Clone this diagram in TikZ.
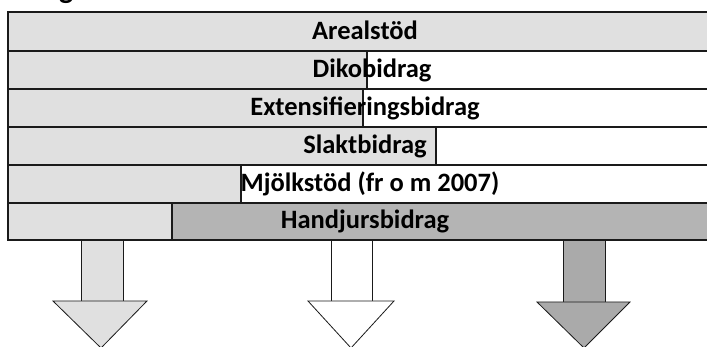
\documentclass[tikz,border=0pt]{standalone}
\usepackage{fontspec}
\setmainfont{Carlito}
\definecolor{barlight}{HTML}{E0E0E0}
\definecolor{bardark}{HTML}{B4B4B4}
\definecolor{arrowdark}{HTML}{AAAAAA}
\definecolor{linec}{HTML}{1A1A1A}
\begin{document}
\begin{tikzpicture}[x=1pt,y=-1pt,
  seg/.style={draw=linec, line width=1.1pt, fill=#1},
  arr/.style={draw=linec, line width=0.8pt, fill=#1},
  lbl/.style={font=\bfseries\fontsize{26.5}{30}\selectfont, anchor=base, inner sep=0pt, text=black}]
\useasboundingbox (0,0) rectangle (707,347);
% cut-off title glyph
\node[font=\bfseries\fontsize{30}{34}\selectfont, anchor=base west, inner sep=0pt] (title) at (59,-1) {g};
% row 1
\draw[seg=barlight] (8,12) rectangle (722,51);
\node[lbl] (areal) at (365,40) {Arealstöd};
% row 2
\draw[seg=barlight] (8,51) rectangle (367,89);
\draw[seg=white] (367,51) rectangle (722,89);
\node[lbl] (diko) at (372,78) {Dikobidrag};
% row 3
\draw[seg=barlight] (8,89) rectangle (363,127);
\draw[seg=white] (363,89) rectangle (722,127);
\node[lbl] (ext) at (365,116) {Extensifieringsbidrag};
% row 4
\draw[seg=barlight] (8,127) rectangle (436,165);
\draw[seg=white] (436,127) rectangle (722,165);
\node[lbl] (slakt) at (365,154) {Slaktbidrag};
% row 5
\draw[seg=barlight] (8,165) rectangle (241,203);
\draw[seg=white] (241,165) rectangle (722,203);
\node[lbl] (mjolk) at (370,192) {Mjölkstöd (fr o m 2007)};
% row 6
\draw[seg=barlight] (8,203) rectangle (172,240);
\draw[seg=bardark] (172,203) rectangle (722,240);
\node[lbl] (handjur) at (365,229) {Handjursbidrag};
% arrows
\draw[arr=barlight] (81,240) rectangle (123,301);
\draw[arr=barlight] (53,301) -- (147,301) -- (101,348) -- cycle;
\draw[arr=white] (331,240) rectangle (372,301);
\draw[arr=white] (308,301) -- (394,301) -- (351,348) -- cycle;
\draw[arr=arrowdark] (563,240) rectangle (605,302);
\draw[arr=arrowdark] (537,302) -- (630,302) -- (584,348) -- cycle;
\end{tikzpicture}
\end{document}
